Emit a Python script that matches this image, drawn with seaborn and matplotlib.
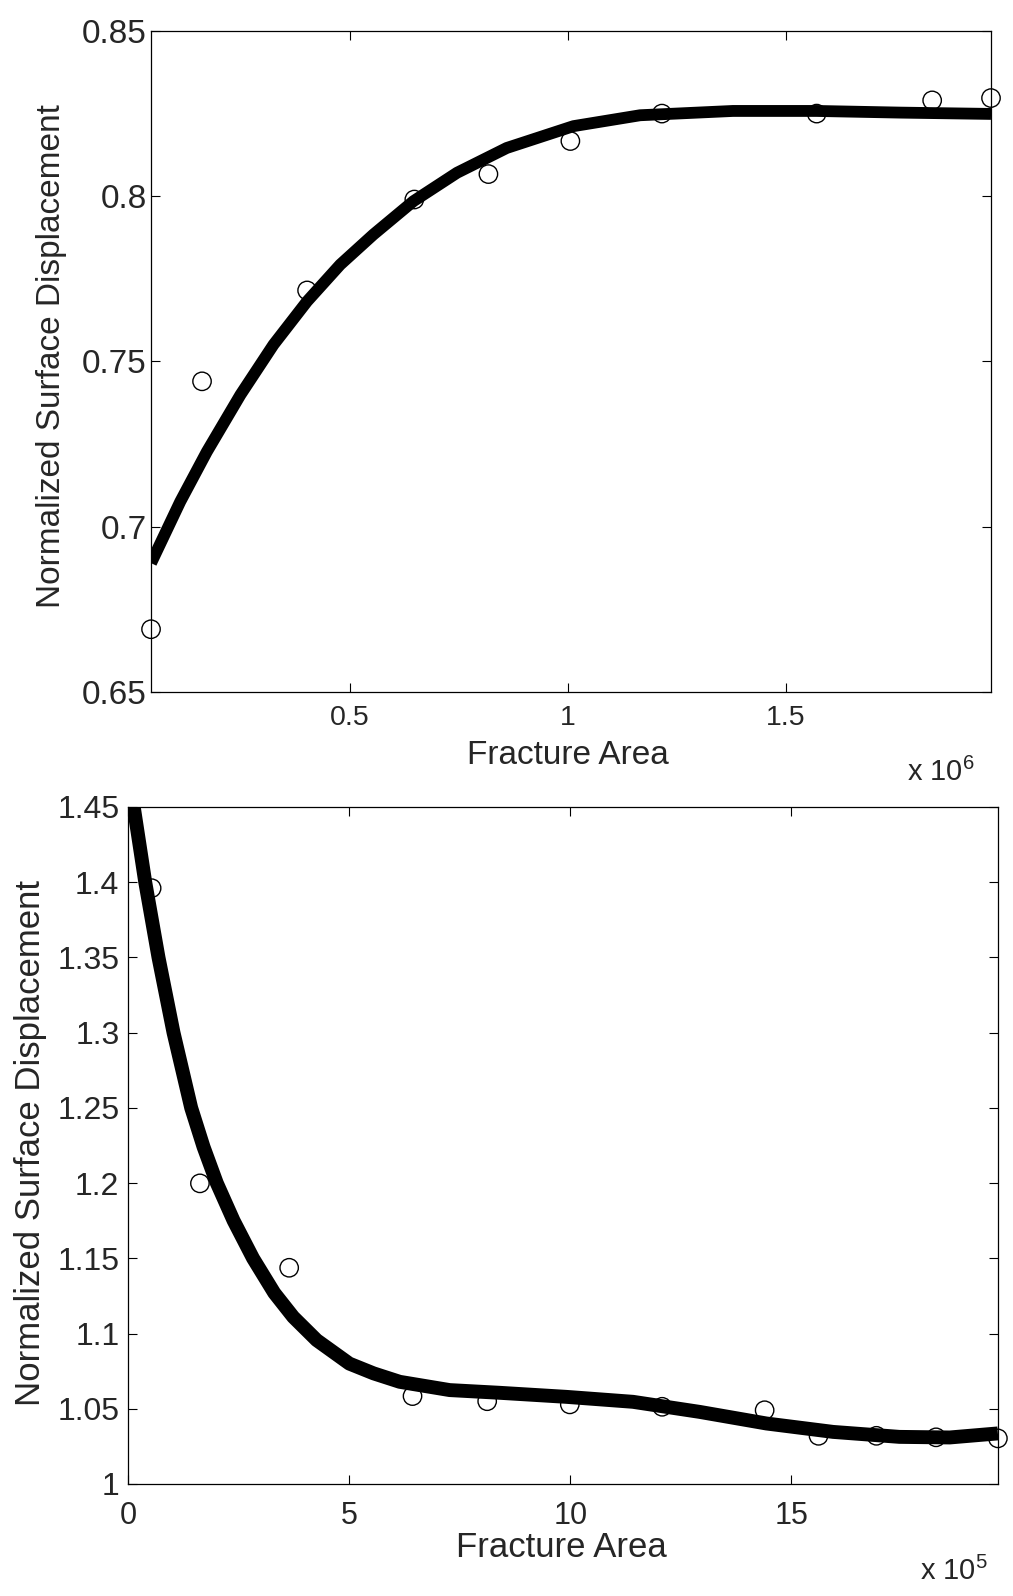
import numpy as np
import pandas as pd
import seaborn as sns
import matplotlib.pyplot as plt
from matplotlib.ticker import FormatStrFormatter

sns.set_style('ticks')
plt.rcParams['font.family'] = ['Liberation Sans', 'DejaVu Sans']
plt.rcParams['mathtext.default'] = 'regular'

# upper panel: fracture area in units of 1e6
top_x = [0.043, 0.160, 0.401, 0.647, 0.817, 1.005, 1.215, 1.570, 1.835, 1.970]
top_y = [0.669, 0.744, 0.7715, 0.799, 0.8067, 0.8167, 0.825, 0.825, 0.829, 0.8297]
top_fit_x = [0.043, 0.110, 0.171, 0.248, 0.324, 0.401, 0.477, 0.553, 0.645,
             0.745, 0.859, 1.012, 1.165, 1.378, 1.570, 1.761, 1.970]
top_fit_y = [0.689, 0.7076, 0.7227, 0.7399, 0.7551, 0.7682, 0.7793, 0.7884, 0.7985,
             0.8071, 0.8146, 0.8212, 0.8245, 0.8258, 0.8258, 0.8253, 0.8249]
top_xticks = [0.5, 1, 1.5]
top_yticks = [0.65, 0.7, 0.75, 0.8, 0.85]

# lower panel: fracture area in units of 1e5
bot_x = [0.525, 1.618, 3.638, 6.43, 8.12, 9.99, 12.08, 14.40, 15.62, 16.93, 18.28, 19.68]
bot_y = [1.396, 1.1998, 1.1437, 1.0584, 1.055, 1.0529, 1.0513, 1.049, 1.032, 1.032, 1.031, 1.0303]
bot_fit_x = [0.0, 0.12, 0.38, 0.68, 1.02, 1.42, 1.70, 2.00, 2.38, 2.82, 3.30, 3.73,
             4.26, 5.0, 5.55, 6.14, 7.27, 8.40, 9.91, 11.42, 12.93, 14.44, 15.95,
             17.45, 18.59, 19.68]
bot_fit_y = [1.458, 1.45, 1.40, 1.35, 1.30, 1.25, 1.224, 1.20, 1.175, 1.15, 1.127,
             1.111, 1.0956, 1.08, 1.0735, 1.0679, 1.0624, 1.0606, 1.0579, 1.0546,
             1.0479, 1.0402, 1.0346, 1.0313, 1.0309, 1.0336]
bot_xticks = [0, 5, 10, 15]
bot_yticks = [1, 1.05, 1.1, 1.15, 1.2, 1.25, 1.3, 1.35, 1.4, 1.45]

fig = plt.figure(figsize=(10.13, 15.96), dpi=100)
ax1 = fig.add_axes([0.1491, 0.5664, 0.8292, 0.4142])
ax2 = fig.add_axes([0.1268, 0.0702, 0.8583, 0.4242])


def draw_panel(ax, x, y, fx, fy, lw, xticks, yticks, xsize, ysize, lsize, xpad, ypad):
    pts = pd.DataFrame({'area': x, 'disp': y})
    fit = pd.DataFrame({'area': fx, 'disp': fy})
    sns.scatterplot(x='area', y='disp', data=pts, ax=ax, marker='o', s=175,
                    facecolor='none', edgecolor='black', linewidth=1.0,
                    clip_on=False, zorder=2)
    sns.lineplot(x='area', y='disp', data=fit, ax=ax, color='black', lw=lw,
                 solid_capstyle='butt', solid_joinstyle='round', zorder=3)
    ax.set_ylim(yticks[0], yticks[-1])
    ax.set_xticks(xticks)
    ax.set_yticks(yticks)
    ax.yaxis.set_major_formatter(FormatStrFormatter('%g'))
    ax.xaxis.set_major_formatter(FormatStrFormatter('%g'))
    ax.tick_params(direction='in', length=6.5, width=0.8, top=True, right=True,
                   color='black')
    ax.tick_params(axis='x', labelsize=xsize, pad=xpad)
    ax.tick_params(axis='y', labelsize=ysize, pad=ypad)
    for sp in ax.spines.values():
        sp.set_visible(True)
        sp.set_color('black')
        sp.set_linewidth(0.9)
    ax.set_xlabel('Fracture Area', fontsize=lsize, va='center')
    ax.set_ylabel('Normalized Surface Displacement', fontsize=lsize, va='center')


draw_panel(ax1, top_x, top_y, top_fit_x, top_fit_y, 8.5, top_xticks, top_yticks,
           20.5, 24, 24, 9, 3)
ax1.set_xlim(top_x[0], top_x[-1])
ax1.xaxis.set_label_coords(0.496, -0.0953)
ax1.yaxis.set_label_coords(-0.118, 0.508)

draw_panel(ax2, bot_x, bot_y, bot_fit_x, bot_fit_y, 10, bot_xticks, bot_yticks,
           22, 23, 25, 12, 6.5)
ax2.set_xlim(0, bot_x[-1])
ax2.xaxis.set_label_coords(0.498, -0.0945)
ax2.yaxis.set_label_coords(-0.1127, 0.504)

fig.text(975 / 1013, 1 - 781 / 1596, r'x 10$^{6}$', fontsize=21,
         ha='right', va='baseline')
fig.text(988 / 1013, 1 - 1580 / 1596, r'x 10$^{5}$', fontsize=21,
         ha='right', va='baseline')

plt.savefig('out.png', dpi=100)
